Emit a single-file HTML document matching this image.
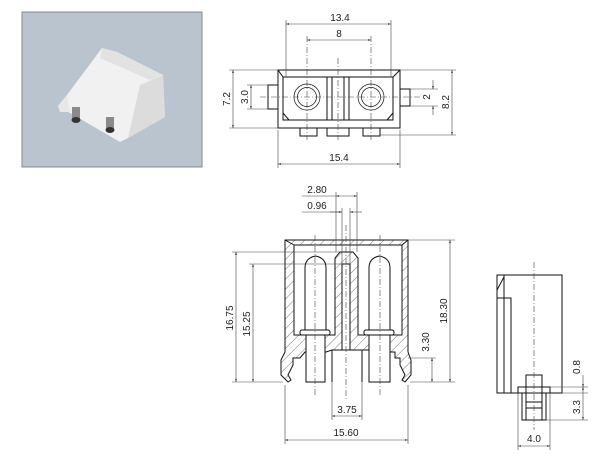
<!DOCTYPE html>
<html><head><meta charset="utf-8"><style>
html,body{margin:0;padding:0;background:#fff;width:610px;height:459px;overflow:hidden}
svg{display:block}
text{font-family:"Liberation Sans",sans-serif;font-size:10px;fill:#222}
</style></head><body>
<svg width="610" height="459" viewBox="0 0 610 459" xmlns="http://www.w3.org/2000/svg">
<defs>
<pattern id="h" width="7" height="7" patternUnits="userSpaceOnUse" patternTransform="rotate(45)">
<line x1="0" y1="0" x2="0" y2="7" stroke="#555" stroke-width="0.8"/></pattern>
<marker id="a" viewBox="0 0 10 10" refX="10" refY="5" markerWidth="5" markerHeight="5" orient="auto-start-reverse"><path d="M0,2 L10,5 L0,8 z" fill="#333"/></marker>
</defs>
<!-- photo -->
<rect x="22" y="12" width="180" height="155" fill="#b9c4cf" stroke="#888" stroke-width="1"/>
<polygon points="67,95 102,48 117,52 163,75 165,117 128,138 120,142 58,106" fill="#f1f1f1"/>
<polygon points="102,48 117,52 163,75 150,80 100,58" fill="#e2e2e2"/>
<polygon points="140,85 163,75 165,117 128,138" fill="#dcdcdc"/>
<polygon points="58,106 67,95 70,112 60,112" fill="#e8e8e8"/>
<rect x="72" y="107" width="8" height="13" fill="#8a8a8a"/>
<ellipse cx="76" cy="120" rx="4.5" ry="3" fill="#333"/>
<rect x="106" y="117" width="8" height="13" fill="#8a8a8a"/>
<ellipse cx="110" cy="130" rx="4.5" ry="3" fill="#333"/>

<g fill="none" stroke="#111" stroke-width="1">
<!-- top view -->
<rect x="278" y="70" width="122" height="58"/>
<rect x="283" y="77" width="110" height="43"/>
<line x1="278" y1="70" x2="283" y2="77"/><line x1="400" y1="70" x2="393" y2="77"/>
<polyline points="283,113 289,120"/><polyline points="393,113 387,120"/>
<polyline points="300,128 300,136 317,136 317,128"/>
<polyline points="327,128 327,136 349,136 349,128"/>
<polyline points="363,128 363,136 380,136 380,128"/>
<rect x="268" y="85" width="10" height="24"/>
<rect x="400" y="89" width="10" height="17"/>
<line x1="327" y1="77" x2="327" y2="120"/><line x1="332" y1="77" x2="332" y2="120"/>
<line x1="344" y1="77" x2="344" y2="120"/><line x1="349" y1="77" x2="349" y2="120"/>
<circle cx="307" cy="97" r="13" stroke-width="0.7"/><circle cx="307" cy="97" r="9.5" stroke-width="0.7"/>
<circle cx="371" cy="97" r="13" stroke-width="0.7"/><circle cx="371" cy="97" r="9.5" stroke-width="0.7"/>
</g>
<g stroke="#444" stroke-width="0.6" fill="none">
<line x1="307" y1="36" x2="307" y2="140" stroke-dasharray="6,2,1,2"/>
<line x1="371" y1="36" x2="371" y2="140" stroke-dasharray="6,2,1,2"/>
<line x1="338" y1="58" x2="338" y2="140" stroke-dasharray="6,2,1,2"/>
<line x1="260" y1="97" x2="420" y2="97" stroke-dasharray="6,2,1,2"/>
<line x1="286" y1="20" x2="286" y2="77"/><line x1="391" y1="20" x2="391" y2="77"/>
<line x1="286" y1="24" x2="391" y2="24" marker-start="url(#a)" marker-end="url(#a)"/>
<line x1="307" y1="40" x2="371" y2="40" marker-start="url(#a)" marker-end="url(#a)"/>
<line x1="278" y1="130" x2="278" y2="168"/><line x1="400" y1="130" x2="400" y2="168"/>
<line x1="278" y1="164" x2="400" y2="164" marker-start="url(#a)" marker-end="url(#a)"/>
<line x1="229" y1="70" x2="278" y2="70"/><line x1="229" y1="128" x2="278" y2="128"/>
<line x1="233" y1="70" x2="233" y2="128" marker-start="url(#a)" marker-end="url(#a)"/>
<line x1="247" y1="85" x2="268" y2="85"/><line x1="247" y1="109" x2="268" y2="109"/>
<line x1="251" y1="85" x2="251" y2="109" marker-start="url(#a)" marker-end="url(#a)"/>
<line x1="410" y1="89" x2="438" y2="89"/><line x1="410" y1="106" x2="438" y2="106"/>
<line x1="433" y1="80" x2="433" y2="89" marker-end="url(#a)"/><line x1="433" y1="115" x2="433" y2="106" marker-end="url(#a)"/>
<line x1="400" y1="70" x2="456" y2="70"/><line x1="380" y1="135" x2="456" y2="135"/>
<line x1="452" y1="70" x2="452" y2="135" marker-start="url(#a)" marker-end="url(#a)"/>
</g>
<text x="340" y="21" text-anchor="middle">13.4</text>
<text x="339" y="37" text-anchor="middle">8</text>
<text x="339" y="161" text-anchor="middle">15.4</text>
<text transform="translate(230,99) rotate(-90)" text-anchor="middle">7.2</text>
<text transform="translate(248,97) rotate(-90)" text-anchor="middle">3.0</text>
<text transform="translate(430,97) rotate(-90)" text-anchor="middle">2</text>
<text transform="translate(449,102) rotate(-90)" text-anchor="middle">8.2</text>

<!-- bottom section view -->
<path d="M285,240 H408 V352 L411,360 L411,375 L405,382 L402,380 L405,375 L400,365 L400,358 L395,358 L395,352 L390,352 L390,350 L332,350 L326,352 L305,352 L300,358 L293,358 L293,365 L288,375 L291,380 L288,382 L281,375 L281,360 L285,352 Z" fill="url(#h)" stroke="#111" stroke-width="1"/>
<path d="M294,245 V335 H335 V258 L340,252 L353,252 L358,258 V335 H402 V245 Z" fill="#fff" stroke="#111" stroke-width="1"/>
<line x1="285" y1="240" x2="294" y2="245" stroke="#111"/><line x1="408" y1="240" x2="402" y2="245" stroke="#111"/>
<g fill="#fff" stroke="#111" stroke-width="1">
<rect x="342" y="264" width="8" height="86"/>
<path d="M305,335 V268 Q305,258 315.5,256 Q326,258 326,268 V335 Z"/>
<path d="M369,335 V268 Q369,258 379.5,256 Q390,258 390,268 V335 Z"/>
<rect x="306" y="335" width="19" height="47"/>
<rect x="369" y="335" width="21" height="47"/>
<rect x="300" y="330" width="30" height="5" rx="2"/>
<rect x="364" y="330" width="30" height="5" rx="2"/>
<rect x="332" y="350" width="30" height="32" stroke="none"/>
<polyline points="332,382 332,350 362,350 362,382" fill="none"/>
</g>
<g stroke="#444" stroke-width="0.6" fill="none">
<line x1="346" y1="225" x2="346" y2="400" stroke-dasharray="6,2,1,2"/>
<line x1="315" y1="235" x2="315" y2="395" stroke-dasharray="6,2,1,2"/>
<line x1="380" y1="235" x2="380" y2="395" stroke-dasharray="6,2,1,2"/>
<line x1="336" y1="192" x2="336" y2="252"/><line x1="357" y1="192" x2="357" y2="252"/>
<line x1="342" y1="208" x2="342" y2="264"/><line x1="350" y1="208" x2="350" y2="264"/>
<line x1="302" y1="196" x2="336" y2="196"/>
<line x1="336" y1="196" x2="357" y2="196" marker-start="url(#a)" marker-end="url(#a)"/>
<line x1="302" y1="212" x2="342" y2="212"/>
<line x1="330" y1="212" x2="342" y2="212" marker-end="url(#a)"/>
<line x1="362" y1="212" x2="350" y2="212" marker-end="url(#a)"/>
<line x1="232" y1="252" x2="340" y2="252"/><line x1="249" y1="264" x2="342" y2="264"/>
<line x1="232" y1="382" x2="283" y2="382"/>
<line x1="236" y1="252" x2="236" y2="382" marker-start="url(#a)" marker-end="url(#a)"/>
<line x1="253" y1="264" x2="253" y2="382" marker-start="url(#a)" marker-end="url(#a)"/>
<line x1="408" y1="240" x2="455" y2="240"/><line x1="410" y1="382" x2="455" y2="382"/>
<line x1="408" y1="358" x2="436" y2="358"/>
<line x1="450" y1="240" x2="450" y2="382" marker-start="url(#a)" marker-end="url(#a)"/>
<line x1="432" y1="358" x2="432" y2="382" marker-start="url(#a)" marker-end="url(#a)"/>
<line x1="332" y1="382" x2="332" y2="420"/><line x1="362" y1="382" x2="362" y2="420"/>
<line x1="332" y1="416" x2="362" y2="416" marker-start="url(#a)" marker-end="url(#a)"/>
<line x1="285" y1="385" x2="285" y2="444"/><line x1="408" y1="385" x2="408" y2="444"/>
<line x1="285" y1="440" x2="408" y2="440" marker-start="url(#a)" marker-end="url(#a)"/>
</g>
<text x="317" y="193" text-anchor="middle">2.80</text>
<text x="317" y="209" text-anchor="middle">0.96</text>
<text x="347" y="413" text-anchor="middle">3.75</text>
<text x="346" y="436" text-anchor="middle">15.60</text>
<text transform="translate(233,318) rotate(-90)" text-anchor="middle">16.75</text>
<text transform="translate(250,324) rotate(-90)" text-anchor="middle">15.25</text>
<text transform="translate(447,311) rotate(-90)" text-anchor="middle">18.30</text>
<text transform="translate(429,342) rotate(-90)" text-anchor="middle">3.30</text>

<!-- side view -->
<g fill="none" stroke="#111" stroke-width="1">
<rect x="497" y="275" width="65" height="118"/>
<line x1="504" y1="275" x2="504" y2="393"/>
<polyline points="497,298 511,298 511,393"/>
<line x1="497" y1="290" x2="504" y2="277"/>
<rect x="518" y="387" width="32" height="6"/>
<rect x="526" y="375" width="16" height="18"/>
<polyline points="522,393 522,420 546,420 546,393"/>
<line x1="526" y1="393" x2="526" y2="420"/><line x1="542" y1="393" x2="542" y2="420"/>
<line x1="526" y1="402" x2="542" y2="402"/><line x1="526" y1="408" x2="542" y2="408"/>
</g>
<g stroke="#444" stroke-width="0.6" fill="none">
<line x1="534" y1="262" x2="534" y2="430" stroke-dasharray="6,2,1,2"/>
<line x1="550" y1="387" x2="588" y2="387"/><line x1="562" y1="393" x2="588" y2="393"/>
<line x1="546" y1="420" x2="588" y2="420"/>
<line x1="583" y1="375" x2="583" y2="387" marker-end="url(#a)"/>
<line x1="583" y1="387" x2="583" y2="420" marker-start="url(#a)" marker-end="url(#a)"/>
<line x1="518" y1="393" x2="518" y2="450"/><line x1="550" y1="393" x2="550" y2="450"/>
<line x1="518" y1="446" x2="550" y2="446" marker-start="url(#a)" marker-end="url(#a)"/>
</g>
<text transform="translate(580,367) rotate(-90)" text-anchor="middle">0.8</text>
<text transform="translate(580,407) rotate(-90)" text-anchor="middle">3.3</text>
<text x="534" y="442" text-anchor="middle">4.0</text>
</svg>
</body></html>
